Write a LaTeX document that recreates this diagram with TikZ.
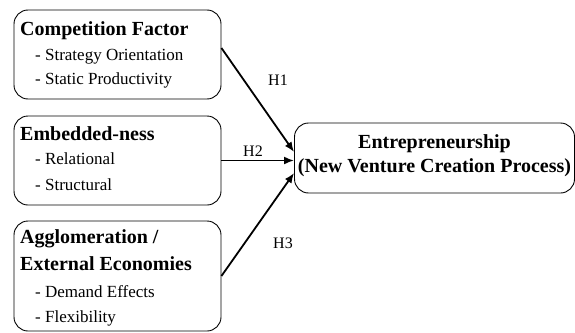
\documentclass[tikz,border=0pt]{standalone}
\usepackage{fontspec}
\setmainfont{Liberation Serif}
\usetikzlibrary{arrows.meta}

\tikzset{
    factor/.style={draw, rounded corners=14pt, line width=0.9pt, inner sep=0pt},
    title/.style={anchor=base west, inner sep=0pt, font=\fontsize{20}{23}\selectfont\bfseries},
    item/.style={anchor=base west, inner sep=0pt, font=\fontsize{17}{20}\selectfont},
    hyp/.style={anchor=base west, inner sep=0pt, font=\fontsize{16}{19}\selectfont},
    link/.style={line width=1.8pt, -{Latex[length=10pt,width=8pt]}}
}

\begin{document}
\begin{tikzpicture}[x=1pt,y=-1pt]
    \useasboundingbox (0,0) rectangle (575,332);

    % factor boxes
    \node[factor, minimum width=207pt, minimum height=89pt] (comp) at (117.5,54.5) {};
    \node[factor, minimum width=207pt, minimum height=89pt] (embed) at (117.5,160.5) {};
    \node[factor, minimum width=207pt, minimum height=110pt] (agglo) at (117.5,276) {};
    \node[factor, minimum width=280pt, minimum height=70pt] (entre) at (434.5,158) {};

    % texts
    \node[title] (comptitle) at (20,35) {Competition Factor};
    \node[item] (comp1) at (35,60) {- Strategy Orientation};
    \node[item] (comp2) at (35,84) {- Static Productivity};

    \node[title] (embedtitle) at (20,140) {Embedded-ness};
    \node[item] (embed1) at (35,164) {- Relational};
    \node[item] (embed2) at (35,190) {- Structural};

    \node[title] (agglotitle1) at (20,243) {Agglomeration /};
    \node[title] (agglotitle2) at (20,270) {External Economies};
    \node[item] (agglo1) at (35,297) {- Demand Effects};
    \node[item] (agglo2) at (35,322) {- Flexibility};

    \node[title, anchor=base] (entre1) at (434.5,148) {Entrepreneurship};
    \node[title, anchor=base] (entre2) at (434.5,172) {(New Venture Creation Process)};

    % hypotheses
    \draw[link] ([yshift=6.5pt]comp.east) -- ([yshift=6pt]entre.west);
    \draw[link] (embed.east) -- (embed.east -| entre.west);
    \draw[link] (agglo.east) -- ([yshift=-15pt]entre.west);

    \node[hyp] (h1) at (268,85) {H1};
    \node[hyp] (h2) at (243,156) {H2};
    \node[hyp] (h3) at (273,248) {H3};
\end{tikzpicture}
\end{document}
